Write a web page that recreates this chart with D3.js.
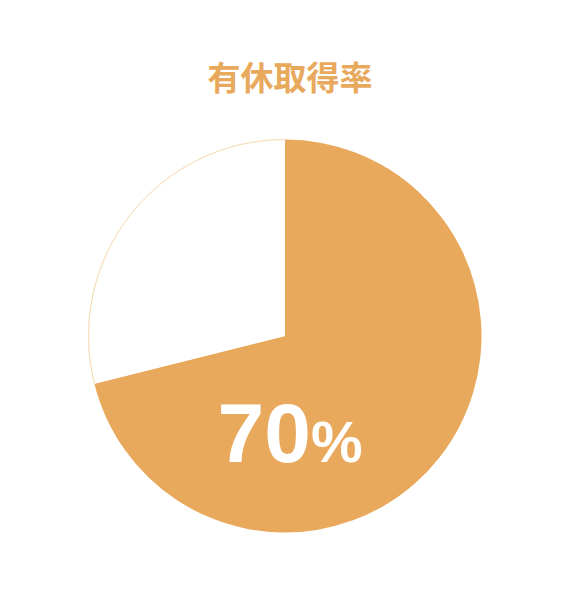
<!DOCTYPE html>
<html>
<head>
<meta charset="utf-8">
<script src="https://cdn.jsdelivr.net/npm/d3@7"></script>
<style>
  body { margin: 0; background: #fff; }
</style>
</head>
<body>
<div class="draw-section"></div>
<script>
// chart data
const title = '有休取得率';
const categories = ['取得', '未取得'];
const values = [71.1, 28.9];
const labelNumber = '70';
const labelUnit = '%';

const width = 570;
const height = 593;
const center = { x: 285, y: 336 };
const radius = 196.5;
const orange = '#e8a95c';

const svg = d3
  .select('.draw-section')
  .append('svg')
  .attr('width', width)
  .attr('height', height);

svg
  .append('text')
  .attr('x', 290)
  .attr('y', 90)
  .attr('text-anchor', 'middle')
  .style('font-family', '"Noto Sans CJK JP", sans-serif')
  .style('font-weight', 'bold')
  .style('font-size', '33px')
  .style('fill', orange)
  .text(title);

const pie = d3.pie().sort(null).value(d => d.value);
const arc = d3.arc().innerRadius(0).outerRadius(radius);
const rim = d3.arc().innerRadius(radius).outerRadius(radius);

const arcs = pie(categories.map((c, i) => ({ name: c, value: values[i] })));

const g = svg
  .append('g')
  .attr('transform', `translate(${center.x},${center.y})`);

g.selectAll('path.slice')
  .data(arcs)
  .enter()
  .append('path')
  .attr('class', 'slice')
  .attr('d', arc)
  .attr('fill', (d, i) => (i === 0 ? orange : '#ffffff'));

// thin outline on the white slice's rim only
g.append('path')
  .attr('d', rim(arcs[1]))
  .attr('fill', 'none')
  .attr('stroke', '#f6dcb8')
  .attr('stroke-width', 0.8);

const label = svg
  .append('text')
  .attr('x', 290)
  .attr('y', 462)
  .attr('text-anchor', 'middle')
  .style('font-family', '"Liberation Sans", Arial, sans-serif')
  .style('font-weight', 'bold')
  .style('fill', '#ffffff');

label.append('tspan').style('font-size', '84px').text(labelNumber);
label.append('tspan').style('font-size', '58px').text(labelUnit);
</script>
</body>
</html>
